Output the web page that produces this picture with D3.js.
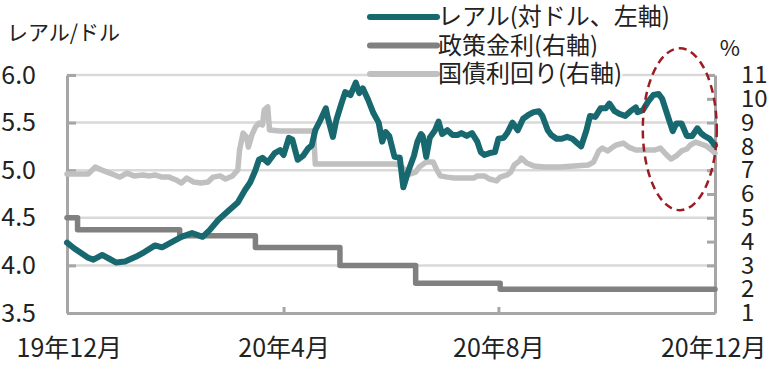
<!DOCTYPE html>
<html>
<head>
<meta charset="utf-8">
<script src="https://cdn.jsdelivr.net/npm/d3@7"></script>
<style>
body{margin:0;background:#fff;}
text{font-family:"Noto Sans CJK JP","Noto Sans",sans-serif;fill:#222;}
</style>
</head>
<body>
<svg id="chart" width="774" height="366"></svg>
<script>
// レアル（対ドル、左軸）
const realRate = [
	["2019-11-30",4.24],["2019-12-04",4.18],["2019-12-08",4.13],["2019-12-12",4.08],["2019-12-15",4.06],
	["2019-12-20",4.11],["2019-12-24",4.07],["2019-12-28",4.03],["2020-01-02",4.04],["2020-01-08",4.09],
	["2020-01-13",4.14],["2020-01-19",4.21],["2020-01-23",4.19],["2020-01-29",4.25],["2020-02-03",4.30],
	["2020-02-09",4.34],["2020-02-15",4.30],["2020-02-19",4.37],["2020-02-24",4.48],["2020-03-01",4.58],
	["2020-03-06",4.66],["2020-03-10",4.79],["2020-03-13",4.87],["2020-03-16",5.00],["2020-03-18",5.11],
	["2020-03-20",5.13],["2020-03-23",5.08],["2020-03-27",5.18],["2020-03-30",5.21],["2020-04-01",5.16],
	["2020-04-04",5.34],["2020-04-06",5.32],["2020-04-09",5.11],["2020-04-12",5.15],["2020-04-15",5.23],
	["2020-04-17",5.26],["2020-04-19",5.42],["2020-04-22",5.53],["2020-04-25",5.65],["2020-04-26",5.56],
	["2020-04-29",5.35],["2020-05-01",5.53],["2020-05-04",5.71],["2020-05-06",5.82],["2020-05-09",5.79],
	["2020-05-12",5.92],["2020-05-14",5.81],["2020-05-16",5.86],["2020-05-19",5.74],["2020-05-22",5.60],
	["2020-05-25",5.50],["2020-05-27",5.30],["2020-05-29",5.40],["2020-05-31",5.36],["2020-06-03",5.14],
	["2020-06-06",5.13],["2020-06-08",4.82],["2020-06-11",5.00],["2020-06-14",5.15],["2020-06-16",5.30],
	["2020-06-18",5.38],["2020-06-19",5.36],["2020-06-21",5.14],["2020-06-23",5.34],["2020-06-26",5.42],
	["2020-06-28",5.51],["2020-06-30",5.38],["2020-07-03",5.42],["2020-07-06",5.37],["2020-07-09",5.37],
	["2020-07-11",5.39],["2020-07-14",5.36],["2020-07-17",5.39],["2020-07-20",5.30],["2020-07-22",5.19],
	["2020-07-24",5.16],["2020-07-27",5.18],["2020-07-30",5.19],["2020-08-01",5.33],["2020-08-04",5.34],
	["2020-08-06",5.39],["2020-08-09",5.50],["2020-08-12",5.42],["2020-08-15",5.54],["2020-08-18",5.58],
	["2020-08-21",5.61],["2020-08-24",5.62],["2020-08-26",5.57],["2020-08-29",5.42],["2020-08-31",5.37],
	["2020-09-03",5.33],["2020-09-06",5.33],["2020-09-09",5.35],["2020-09-12",5.33],["2020-09-15",5.28],
	["2020-09-17",5.25],["2020-09-20",5.42],["2020-09-22",5.57],["2020-09-25",5.56],["2020-09-28",5.65],
	["2020-10-01",5.65],["2020-10-03",5.70],["2020-10-06",5.62],["2020-10-09",5.59],["2020-10-12",5.57],
	["2020-10-15",5.62],["2020-10-18",5.66],["2020-10-19",5.61],["2020-10-22",5.63],["2020-10-25",5.72],
	["2020-10-28",5.79],["2020-10-31",5.80],["2020-11-02",5.75],["2020-11-05",5.58],["2020-11-08",5.41],
	["2020-11-10",5.49],["2020-11-13",5.49],["2020-11-16",5.36],["2020-11-19",5.36],["2020-11-22",5.44],
	["2020-11-24",5.39],["2020-11-26",5.36],["2020-11-29",5.33],["2020-12-02",5.26]
];

// 政策金利（右軸）
const policyRate = [
	["2019-11-30",5.0],["2019-12-06",4.5],["2020-02-02",4.25],["2020-03-16",3.75],
	["2020-05-03",3.0],["2020-06-15",2.25],["2020-08-02",2.0],["2020-12-02",2.0]
];

// 国債利回り（右軸）
const bondYield = [
	["2019-11-30",6.84],["2019-12-12",6.84],["2019-12-16",7.13],["2019-12-21",6.97],["2019-12-27",6.80],
	["2019-12-30",6.71],["2020-01-03",6.88],["2020-01-07",6.76],["2020-01-12",6.80],["2020-01-16",6.76],
	["2020-01-19",6.80],["2020-01-23",6.71],["2020-01-27",6.71],["2020-01-31",6.59],["2020-02-03",6.46],
	["2020-02-06",6.67],["2020-02-10",6.50],["2020-02-14",6.46],["2020-02-18",6.50],["2020-02-21",6.71],
	["2020-02-25",6.76],["2020-02-28",6.63],["2020-03-03",6.76],["2020-03-06",7.01],["2020-03-07",7.85],
	["2020-03-09",8.56],["2020-03-11",8.39],["2020-03-12",7.97],["2020-03-14",8.48],["2020-03-16",8.81],
	["2020-03-18",8.98],["2020-03-20",8.90],["2020-03-21",9.53],["2020-03-23",9.66],["2020-03-24",8.69],
	["2020-03-30",8.65],["2020-04-10",8.65],["2020-04-18",8.65],["2020-04-19",7.26],["2020-05-09",7.26],
	["2020-06-03",7.26],["2020-06-06",7.22],["2020-06-09",7.01],["2020-06-12",6.84],["2020-06-15",6.92],
	["2020-06-17",7.13],["2020-06-21",7.34],["2020-06-25",7.34],["2020-06-27",7.01],["2020-06-29",6.76],
	["2020-07-03",6.71],["2020-07-07",6.67],["2020-07-13",6.67],["2020-07-18",6.67],["2020-07-20",6.76],
	["2020-07-24",6.76],["2020-07-27",6.63],["2020-07-31",6.55],["2020-08-02",6.71],["2020-08-06",6.80],
	["2020-08-08",6.92],["2020-08-10",7.22],["2020-08-13",7.39],["2020-08-14",7.51],["2020-08-17",7.30],
	["2020-08-21",7.18],["2020-08-27",7.13],["2020-09-05",7.13],["2020-09-13",7.18],["2020-09-21",7.22],
	["2020-09-24",7.34],["2020-09-27",7.81],["2020-09-29",7.93],["2020-10-02",7.81],["2020-10-05",7.97],
	["2020-10-07",8.06],["2020-10-11",8.14],["2020-10-14",7.97],["2020-10-18",7.85],["2020-10-22",7.85],
	["2020-10-25",7.85],["2020-10-29",7.85],["2020-11-01",7.93],["2020-11-04",7.68],["2020-11-07",7.47],
	["2020-11-10",7.60],["2020-11-13",7.81],["2020-11-16",7.89],["2020-11-18",8.06],["2020-11-21",8.18],
	["2020-11-24",8.10],["2020-11-27",8.02],["2020-11-30",7.85],["2020-12-02",7.72]
];

const leftTicks = [3.5, 4.0, 4.5, 5.0, 5.5, 6.0];
const rightTicks = [1, 2, 3, 4, 5, 6, 7, 8, 9, 10, 11];
const xLabels = [["2019-12-01","19年12月"],["2020-04-01","20年4月"],["2020-08-01","20年8月"],["2020-12-01","20年12月"]];
const xTickMarks = ["2020-04-01","2020-08-01"];
const legendItems = [
	{"name": "レアル(対ドル、左軸)", "colour": "#18696f"},
	{"name": "政策金利(右軸)", "colour": "#808080"},
	{"name": "国債利回り(右軸)", "colour": "#c0c0c0"}
];
// 点線の楕円で囲んだ期間
const highlightDates = ["2020-10-22","2020-12-03"];
const highlightValues = [4.58, 6.28];

let parse = d3.timeParse("%Y-%m-%d");
let margin = {"left": 67, "top": 75, "bottom": 53, "right": 59};
let width = 774;
let height = 366;
let axisColour = "#a6a6a6";
let gridColour = "#d9d9d9";

let svg = d3.select("#chart");

let x = d3.scaleUtc()
	.domain([parse("2019-11-30"), parse("2020-12-02")])
	.range([margin.left, width - margin.right]);
let yL = d3.scaleLinear()
	.domain([3.5, 6.0])
	.range([height - margin.bottom, margin.top]);
let yR = d3.scaleLinear()
	.domain([1, 11])
	.range([height - margin.bottom, margin.top]);

// gridlines
svg.append("g").attr("class", "grid")
	.selectAll("line")
	.data(leftTicks.filter(d => d > 3.5))
	.join("line")
	.attr("x1", margin.left)
	.attr("x2", width - margin.right)
	.attr("y1", d => yL(d))
	.attr("y2", d => yL(d))
	.attr("stroke", gridColour)
	.attr("stroke-width", 2.5);

// left axis: inner ticks + labels
svg.append("g")
	.attr("transform", `translate(${margin.left},0)`)
	.call(d3.axisRight(yL).tickValues(leftTicks).tickSize(9).tickSizeOuter(0).tickFormat(""))
	.call(g => g.selectAll("line,path").attr("stroke", axisColour).attr("stroke-width", 3));
svg.append("g")
	.attr("transform", `translate(${margin.left},0)`)
	.call(d3.axisLeft(yL).tickValues(leftTicks).tickSize(0).tickPadding(31).tickFormat(d3.format(".1f")))
	.call(g => g.select(".domain").remove())
	.call(g => g.selectAll("text").attr("font-size", 25).attr("font-family", null).attr("fill", "#222"));

// right axis
svg.append("g")
	.attr("transform", `translate(${width - margin.right},0)`)
	.call(d3.axisLeft(yR).tickValues(rightTicks).tickSize(8).tickSizeOuter(0).tickFormat(""))
	.call(g => g.selectAll("line,path").attr("stroke", axisColour).attr("stroke-width", 3));
svg.append("g")
	.attr("transform", `translate(${width - margin.right},0)`)
	.call(d3.axisRight(yR).tickValues(rightTicks).tickSize(0).tickPadding(26))
	.call(g => g.select(".domain").remove())
	.call(g => g.selectAll("text").attr("font-size", 24).attr("font-family", null).attr("fill", "#222"));

// bottom axis
svg.append("g")
	.attr("transform", `translate(0,${height - margin.bottom})`)
	.call(d3.axisTop(x).tickValues(xTickMarks.map(parse)).tickSize(6).tickSizeOuter(0).tickFormat(""))
	.call(g => g.selectAll("line,path").attr("stroke", axisColour).attr("stroke-width", 3));
let labelMap = new Map(xLabels.map(e => [+parse(e[0]), e[1]]));
svg.append("g")
	.attr("transform", `translate(0,${height - margin.bottom})`)
	.call(d3.axisBottom(x).tickValues(xLabels.map(e => parse(e[0]))).tickSize(0).tickPadding(26).tickFormat(d => labelMap.get(+d)))
	.call(g => g.select(".domain").remove())
	.call(g => g.selectAll("text").attr("font-size", 25).attr("font-family", null).attr("fill", "#222"));

// axis titles
svg.append("text")
	.attr("x", 7)
	.attr("y", 33)
	.attr("dy", "0.35em")
	.attr("font-size", 21)
	.text("レアル/ドル");
svg.append("text")
	.attr("x", 730)
	.attr("y", 48)
	.attr("dy", "0.35em")
	.attr("text-anchor", "middle")
	.attr("font-size", 22)
	.text("%");

// series
const lineL = d3.line()
	.x(d => x(parse(d[0])))
	.y(d => yL(d[1]));
const lineR = d3.line()
	.x(d => x(parse(d[0])))
	.y(d => yR(d[1]));
const stepR = d3.line()
	.x(d => x(parse(d[0])))
	.y(d => yR(d[1]))
	.curve(d3.curveStepAfter);

let series = svg.append("g")
	.attr("fill", "none")
	.attr("stroke-linejoin", "round")
	.attr("stroke-linecap", "round")
	.attr("stroke-width", 5.5);

series.append("path").attr("stroke", legendItems[2].colour).attr("d", lineR(bondYield));
series.append("path").attr("stroke", legendItems[1].colour).attr("d", stepR(policyRate));
series.append("path").attr("stroke", legendItems[0].colour).attr("stroke-width", 6).attr("d", lineL(realRate));

// legend
let legend = svg.append("g").attr("class", "legend").attr("transform", "translate(370,17)");
let items = legend.selectAll("g")
	.data(legendItems)
	.join("g")
	.attr("transform", (d, i) => `translate(0,${i * 28.5})`);
items.append("rect").attr("class", "bg").attr("fill", "#fff");
items.append("line")
	.attr("x1", 0)
	.attr("x2", 67)
	.attr("stroke", d => d.colour)
	.attr("stroke-width", 6)
	.attr("stroke-linecap", "round");
items.append("text")
	.attr("x", 68)
	.attr("dy", "0.35em")
	.attr("font-size", 24)
	.text(d => d.name);
items.each(function(){
	let b = d3.select(this).select("text").node().getBBox();
	d3.select(this).select("rect.bg")
		.attr("x", b.x).attr("y", b.y + 3).attr("width", b.width).attr("height", b.height - 6);
});

// highlight ellipse
let ex = highlightDates.map(d => x(parse(d)));
let ey = highlightValues.map(d => yL(d));
svg.append("ellipse")
	.attr("cx", (ex[0] + ex[1]) / 2)
	.attr("cy", (ey[0] + ey[1]) / 2)
	.attr("rx", (ex[1] - ex[0]) / 2)
	.attr("ry", Math.abs(ey[0] - ey[1]) / 2)
	.attr("fill", "none")
	.attr("stroke", "#9c1c22")
	.attr("stroke-width", 2.5)
	.attr("stroke-dasharray", "8,5");
</script>
</body>
</html>
